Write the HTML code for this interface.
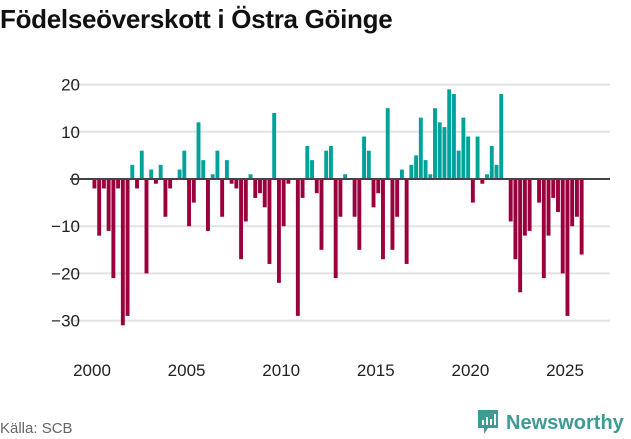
<!DOCTYPE html>
<html><head><meta charset="utf-8"><style>
body{margin:0;width:631px;height:439px;background:#fff;font-family:"Liberation Sans","DejaVu Sans",sans-serif;overflow:hidden;position:relative}
#title{position:absolute;left:0;top:4px;font-size:26px;font-weight:bold;color:#111;letter-spacing:-0.3px}
#src{position:absolute;left:0;top:420px;font-size:15px;color:#666}
#logo{position:absolute;left:476px;top:408px;display:flex;align-items:center;gap:6px;color:#3d9b93;font-size:20px;font-weight:bold}
</style></head><body>
<div id="title">Födelseöverskott i Östra Göinge</div>
<svg id="chart" width="631" height="439" style="position:absolute;left:0;top:0"></svg>
<div id="src">Källa: SCB</div>
<div id="logo">
<svg width="24" height="30"><path d="M2 2h20v18h-10l-4 6v-6h-6z" fill="#3d9b93"/><rect x="6" y="12" width="2" height="5" fill="#fff"/><rect x="10" y="9" width="2" height="8" fill="#fff"/><rect x="14" y="11" width="2" height="6" fill="#fff"/><rect x="18" y="6" width="2" height="11" fill="#fff"/></svg>
<span>Newsworthy</span></div>
<script>
const startYear = 2000;
const values = [-2,-12,-2,-11,-21,-2,-31,-29,3,-2,6,-20,2,-1,3,-8,-2,0,2,6,-10,-5,12,4,-11,1,
6,-8,4,-1,-2,-17,-9,1,-4,-3,-6,-18,14,-22,-10,-1,0,-29,-4,7,4,-3,-15,6,7,-21,
-8,1,0,-8,-15,9,6,-6,-3,-17,15,-15,-8,2,-18,3,5,13,4,1,15,12,11,19,18,
6,13,9,-5,9,-1,1,7,3,18,0,-9,-17,-24,-12,-11,0,-5,-21,-12,-4,-7,-20,-29,-10,-8,-16];
const yTicks = [20,10,0,-10,-20,-30];
const xTicks = [2000,2005,2010,2015,2020,2025];
const svg = document.getElementById('chart');
const NS = 'http://www.w3.org/2000/svg';
const x = t => 92 + (t - 2000) * 18.92;
const y = v => 179 - v * 4.72;
function mk(tag, attrs){const e=document.createElementNS(NS,tag);for(const k in attrs)e.setAttribute(k,attrs[k]);svg.appendChild(e);return e;}
yTicks.forEach(v=>{
  const g=mk('line',{x1:70,x2:610,y1:y(v),y2:y(v),stroke:'#e2e2e2','stroke-width':2});
  
  
  const t=mk('text',{x:80,y:y(v)+6,'text-anchor':'end','font-size':17,fill:'#222','font-family':'Liberation Sans, sans-serif'});
  t.textContent = v<0 ? '−'+(-v) : String(v);
  
  
});
xTicks.forEach(yr=>{
  const t=mk('text',{x:x(yr),y:376,'text-anchor':'middle','font-size':17,fill:'#222','font-family':'Liberation Sans, sans-serif'});
  t.textContent=yr;
  
  
});
values.forEach((v,i)=>{
  const t=startYear+i/4;
  const y0=y(Math.max(v,0)), y1=y(Math.min(v,0));
  const r=mk('rect',{x:x(t)+0.5,y:y0,width:3.9,height:Math.max(0,y1-y0),fill:v>=0?'#00a399':'#99003c'});
  
  
});
const z=mk('line',{x1:70,x2:610,y1:y(0),y2:y(0),stroke:'#444','stroke-width':2});


</script>
</body></html>
